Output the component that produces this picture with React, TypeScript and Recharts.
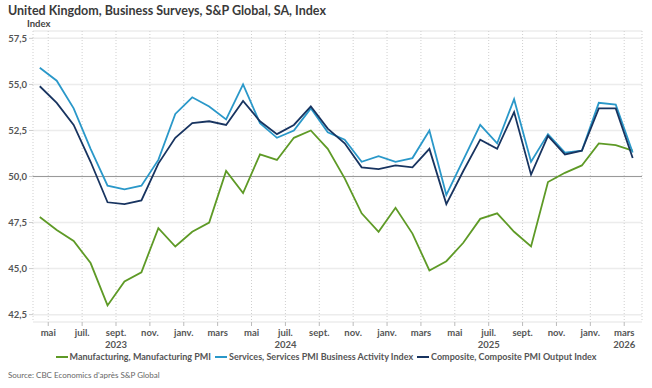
import { LineChart, Line, XAxis, YAxis, CartesianGrid, ReferenceLine } from "recharts";

// monthly, Apr 2023 .. Mar 2026
const manufacturing = [
  47.8, 47.1, 46.5, 45.3, 43.0, 44.3, 44.8, 47.2, 46.2,
  47.0, 47.5, 50.3, 49.1, 51.2, 50.9, 52.1, 52.5, 51.5, 49.9, 48.0, 47.0,
  48.3, 46.9, 44.9, 45.4, 46.4, 47.7, 48.0, 47.0, 46.2, 49.7, 50.2, 50.6,
  51.8, 51.7, 51.4,
];
const services = [
  55.9, 55.2, 53.7, 51.5, 49.5, 49.3, 49.5, 50.9, 53.4,
  54.3, 53.8, 53.1, 55.0, 52.9, 52.1, 52.5, 53.7, 52.4, 52.0, 50.8, 51.1,
  50.8, 51.0, 52.5, 49.0, 50.9, 52.8, 51.8, 54.2, 50.8, 52.3, 51.3, 51.4,
  54.0, 53.9, 51.3,
];
const composite = [
  54.9, 54.0, 52.8, 50.8, 48.6, 48.5, 48.7, 50.7, 52.1,
  52.9, 53.0, 52.8, 54.1, 53.0, 52.3, 52.8, 53.8, 52.6, 51.8, 50.5, 50.4,
  50.6, 50.5, 51.5, 48.5, 50.3, 52.0, 51.5, 53.5, 50.1, 52.2, 51.2, 51.4,
  53.7, 53.7, 51.0,
];

// ticks sit on the first of every other month (May 2023 .. Mar 2026)
const tickMonths = [
  "mai", "juil.", "sept.", "nov.", "janv.", "mars", "mai", "juil.", "sept.",
  "nov.", "janv.", "mars", "mai", "juil.", "sept.", "nov.", "janv.", "mars",
];
const tickYears: Record<number, string> = { 2: "2023", 7: "2024", 13: "2025", 17: "2026" };
const xTicks = tickMonths.map((_, k) => 0.5 + 2 * k);
const yTicks = [42.5, 45, 47.5, 50, 52.5, 55, 57.5];

const data = manufacturing.map((m, i) => ({
  i,
  manufacturing: m,
  services: services[i],
  composite: composite[i],
}));

const FONT = "Lato, 'Open Sans', sans-serif";
const GREEN = "#5e9a26";
const BLUE = "#2a98c9";
const NAVY = "#183460";

const XTick = ({ x, y, payload }: any) => {
  const k = xTicks.indexOf(payload.value);
  return (
    <text x={x} y={y} textAnchor="middle" fontSize={9.5} fontWeight={700} fill="#555" fontFamily={FONT}>
      <tspan x={x} dy={8}>{tickMonths[k] ?? ""}</tspan>
      {tickYears[k] && <tspan x={x} dy={11.5}>{tickYears[k]}</tspan>}
    </text>
  );
};

const legendItems = [
  { name: "Manufacturing, Manufacturing PMI", color: GREEN },
  { name: "Services, Services PMI Business Activity Index", color: BLUE },
  { name: "Composite, Composite PMI Output Index", color: NAVY },
];

export default function App() {
  return (
    <div style={{ position: "absolute", left: 0, top: 0, width: 652, height: 388, background: "#fff", fontFamily: FONT }}>
      <div style={{ position: "absolute", left: 8, top: 3, fontSize: 12.5, fontWeight: 700, color: "#3a3a3a", whiteSpace: "nowrap" }}>
        United Kingdom, Business Surveys, S&amp;P Global, SA, Index
      </div>
      <div style={{ position: "absolute", left: 27, top: 18, fontSize: 9.5, fontWeight: 700, color: "#444" }}>Index</div>

      <LineChart width={652} height={388} data={data} margin={{ top: 31, right: 10, left: 0, bottom: 36 }}>
        <CartesianGrid horizontal vertical={false} stroke="#ececec" strokeWidth={1.5} />
        <CartesianGrid horizontal={false} vertical stroke="#cfcfcf" strokeDasharray="1 2" />
        <XAxis
          type="number"
          dataKey="i"
          domain={[-0.4, 35.55]}
          ticks={xTicks}
          interval={0}
          axisLine={false}
          tickLine={{ stroke: "#bbb" }}
          tickSize={4}
          height={30}
          tick={<XTick />}
        />
        <YAxis
          domain={[42.1, 57.9]}
          ticks={yTicks}
          interval={0}
          width={33}
          axisLine={false}
          tickLine={{ stroke: "#ccc" }}
          tickSize={4}
          tickMargin={2}
          tickFormatter={(v: number) => v.toFixed(1).replace(".", ",")}
          tick={{ fontSize: 9.5, fontWeight: 700, fill: "#555", fontFamily: FONT }}
        />
        <ReferenceLine y={50} stroke="#9a9a9a" strokeWidth={1.2} />
        <Line dataKey="manufacturing" stroke={GREEN} strokeWidth={1.8} dot={false} isAnimationActive={false} />
        <Line dataKey="services" stroke={BLUE} strokeWidth={1.8} dot={false} isAnimationActive={false} />
        <Line dataKey="composite" stroke={NAVY} strokeWidth={1.8} dot={false} isAnimationActive={false} />
      </LineChart>

      <div style={{ position: "absolute", left: 0, width: 652, top: 351, display: "flex", justifyContent: "center", gap: 4, fontSize: 9, fontWeight: 700, color: "#555", whiteSpace: "nowrap" }}>
        {legendItems.map(it => (
          <div key={it.name} style={{ display: "flex", alignItems: "center" }}>
            <span style={{ display: "inline-block", width: 12, height: 2, background: it.color, marginRight: 2 }} />
            {it.name}
          </div>
        ))}
      </div>
      <div style={{ position: "absolute", left: 8, top: 370, fontSize: 8, color: "#666" }}>
        Source: CBC Economics d'après S&amp;P Global
      </div>
    </div>
  );
}
